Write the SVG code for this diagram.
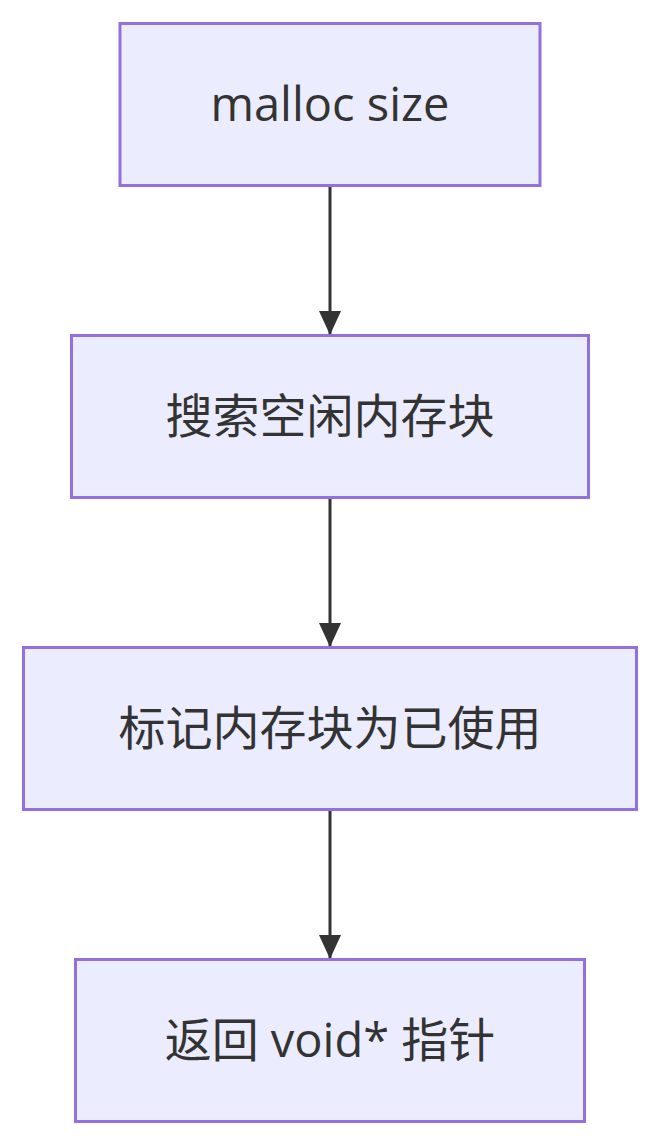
<svg xmlns="http://www.w3.org/2000/svg" width="660" height="1146" viewBox="0 0 660 1146">
  <style>
    .node rect { fill: #ECECFF; stroke: #9370DB; stroke-width: 3; }
    .node text { fill: #333333; font-family: "Open Sans", "Noto Sans CJK SC", sans-serif; font-size: 47px; text-anchor: middle; dominant-baseline: central; }
    .edge { stroke: #333333; stroke-width: 3; fill: none; }
  </style>
  <defs>
    <marker id="arrow" viewBox="0 0 24 22" refX="24" refY="11" markerWidth="24" markerHeight="22" markerUnits="userSpaceOnUse" orient="auto">
      <path d="M0,0 L24,11 L0,22 Z" fill="#333333"/>
    </marker>
  </defs>
  <rect width="660" height="1146" fill="#ffffff"/>
  <g id="edges">
    <line class="edge" x1="330" y1="186" x2="330" y2="335" marker-end="url(#arrow)"/>
    <line class="edge" x1="330" y1="498" x2="330" y2="647" marker-end="url(#arrow)"/>
    <line class="edge" x1="330" y1="810" x2="330" y2="959" marker-end="url(#arrow)"/>
  </g>
  <g id="node-malloc" class="node">
    <rect x="120" y="23.5" width="420" height="162"/>
    <text x="330" y="103">malloc size</text>
  </g>
  <g id="node-search" class="node">
    <rect x="71.5" y="335.5" width="517" height="162"/>
    <text x="330" y="415">搜索空闲内存块</text>
  </g>
  <g id="node-mark" class="node">
    <rect x="23.5" y="647.5" width="613" height="162"/>
    <text x="330" y="727">标记内存块为已使用</text>
  </g>
  <g id="node-return" class="node">
    <rect x="75.5" y="959.5" width="509" height="162"/>
    <text x="330" y="1039">返回 void* 指针</text>
  </g>
</svg>
